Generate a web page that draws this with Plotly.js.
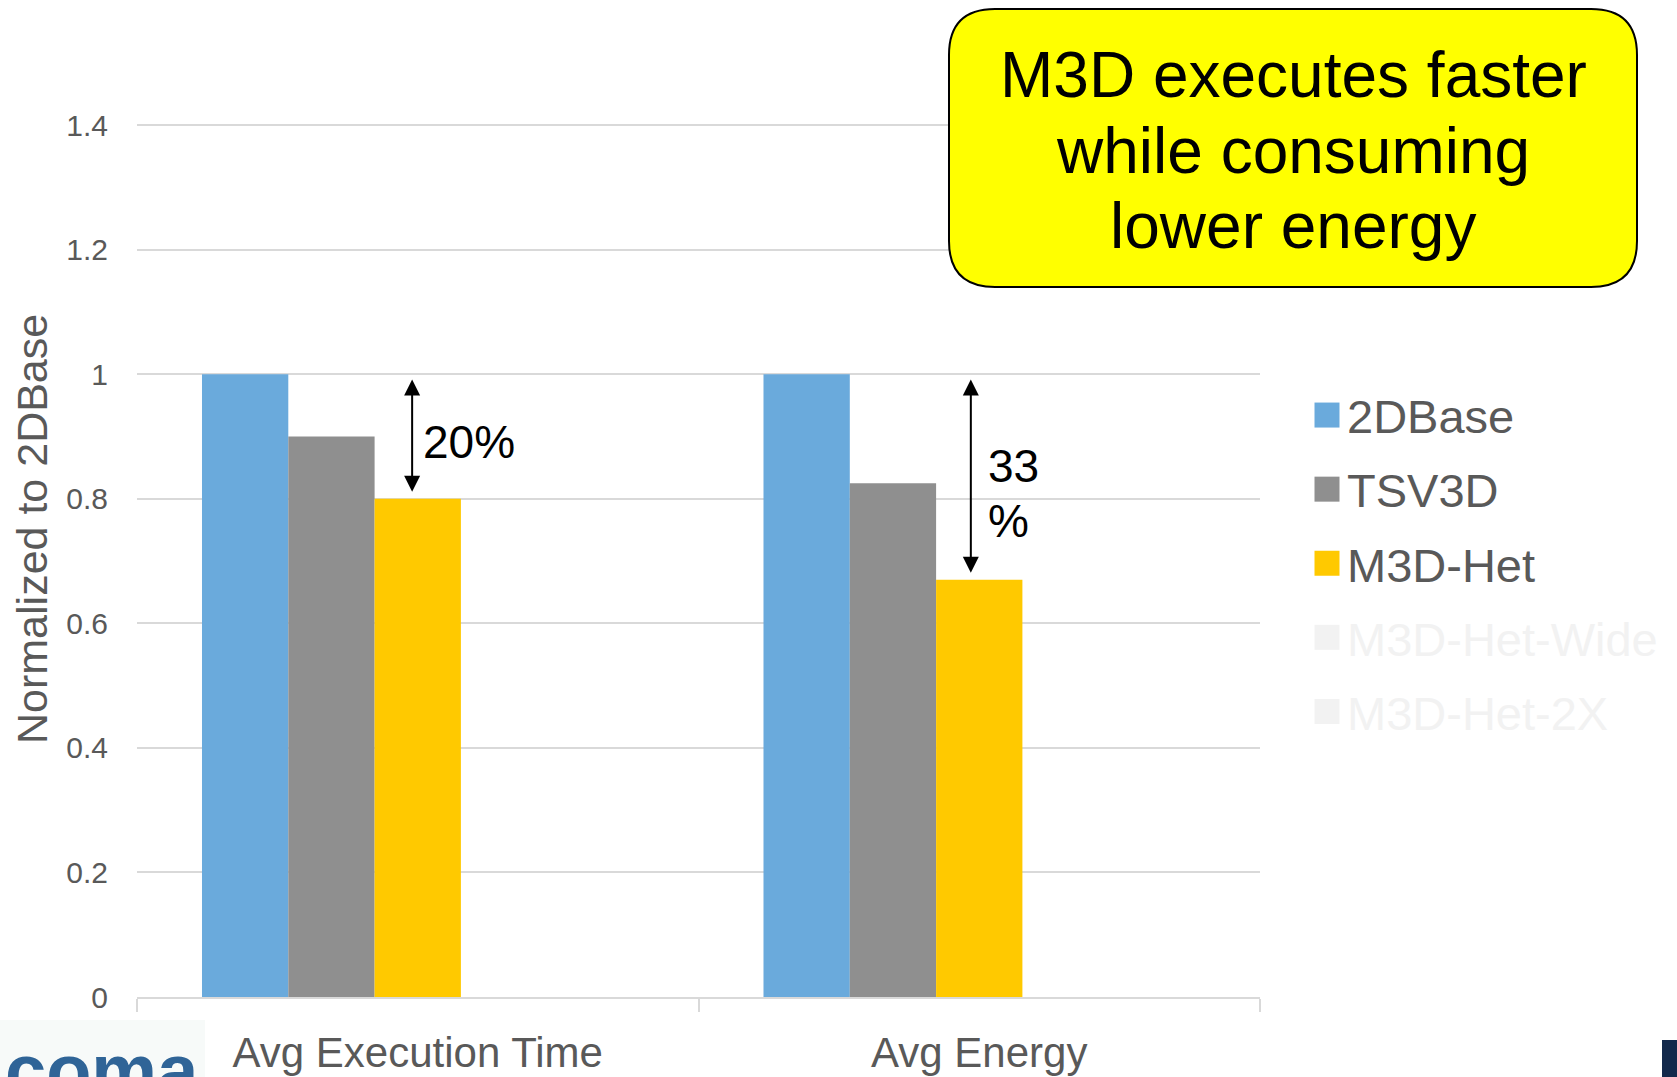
<!DOCTYPE html>
<html>
<head>
<meta charset="utf-8">
<script src="https://cdn.plot.ly/plotly-3.0.1.min.js"></script>
<style>
  html, body { margin: 0; padding: 0; background: #ffffff; }
  #chart { width: 1677px; height: 1077px; }
</style>
</head>
<body>
<div id="chart"></div>
<script>
// Normalized execution time and energy of the stacking options
const categories = ['Avg Execution Time', 'Avg Energy'];
const seriesNames = ['2DBase', 'TSV3D', 'M3D-Het', 'M3D-Het-Wide', 'M3D-Het-2X'];
const base2D = [1.0, 1.0];
const tsv3D = [0.90, 0.825];
const m3dHet = [0.80, 0.67];
const m3dHetWide = [null, null];
const m3dHet2X = [null, null];
const yTickVals = [0, 0.2, 0.4, 0.6, 0.8, 1.0, 1.2, 1.4];

const seriesValues = [base2D, tsv3D, m3dHet, m3dHetWide, m3dHet2X];
const seriesColors = ['#6aaadc', '#8f8f8f', '#ffc900', '#f2f2f2', '#f2f2f2'];
const fadedSeries = [false, false, false, true, true];

const FONT = 'Liberation Sans, Arial, Helvetica, sans-serif';
const W = 1677, H = 1077;
const M = { l: 137, r: 417, t: 119, b: 80 };
const plotW = W - M.l - M.r, plotH = H - M.t - M.b;
// leave a little headroom above 1.4 so its gridline is drawn
const Y_MAX = plotH * 1.4 / 872;
const px = x => (x - M.l) / plotW;          // page pixel -> paper x
const py = y => (H - M.b - y) / plotH;      // page pixel -> paper y

const traces = seriesNames.map((name, i) => ({
  type: 'bar',
  name: fadedSeries[i] ? '<span style="color:#f2f2f2">' + name + '</span>' : name,
  x: categories,
  y: seriesValues[i],
  marker: { color: seriesColors[i], line: { width: 0 } },
  legendgroup: 'g' + i,
  hoverinfo: 'skip'
}));

// rounded callout box
function roundedRect(x0, y0, x1, y1, r) {
  const X = v => px(v).toFixed(5), Y = v => py(v).toFixed(5);
  return 'M' + X(x0 + r) + ',' + Y(y0) +
    ' L' + X(x1 - r) + ',' + Y(y0) +
    ' Q' + X(x1) + ',' + Y(y0) + ' ' + X(x1) + ',' + Y(y0 + r) +
    ' L' + X(x1) + ',' + Y(y1 - r) +
    ' Q' + X(x1) + ',' + Y(y1) + ' ' + X(x1 - r) + ',' + Y(y1) +
    ' L' + X(x0 + r) + ',' + Y(y1) +
    ' Q' + X(x0) + ',' + Y(y1) + ' ' + X(x0) + ',' + Y(y1 - r) +
    ' L' + X(x0) + ',' + Y(y0 + r) +
    ' Q' + X(x0) + ',' + Y(y0) + ' ' + X(x0 + r) + ',' + Y(y0) + ' Z';
}

const shapes = [
  { type: 'path', xref: 'paper', yref: 'paper', path: roundedRect(949, 9, 1637, 287, 46),
    fillcolor: '#ffff00', line: { color: '#000000', width: 2 }, layer: 'above' },
  { type: 'rect', xref: 'paper', yref: 'paper', x0: px(0), x1: px(205), y0: py(1077), y1: py(1020),
    fillcolor: '#f7faf9', line: { width: 0 }, layer: 'above' },
  { type: 'rect', xref: 'paper', yref: 'paper', x0: px(1662), x1: px(1677), y0: py(1077), y1: py(1040),
    fillcolor: '#13294b', line: { width: 0 }, layer: 'above' }
];

// double-headed arrows showing the reduction against 2DBase
const gapX = [-0.01, 0.985];
const annotations = [];
categories.forEach((c, i) => {
  annotations.push({
    x: gapX[i], y: m3dHet[i] + 0.011, xref: 'x', yref: 'y',
    ax: gapX[i], ay: base2D[i] - 0.006, axref: 'x', ayref: 'y',
    text: '', showarrow: true, arrowside: 'end+start',
    arrowhead: 2, startarrowhead: 2, arrowsize: 1.6, startarrowsize: 1.6,
    arrowwidth: 2, arrowcolor: '#000000', standoff: 0, startstandoff: 0
  });
});
const pct = categories.map((c, i) => Math.round((base2D[i] - m3dHet[i]) * 100));
annotations.push(
  { x: 0.006, y: 0.891, xref: 'x', yref: 'y', xanchor: 'left', yanchor: 'middle',
    text: pct[0] + '%', showarrow: false, font: { family: FONT, size: 46, color: '#000000' } },
  { x: 1.012, y: 0.852, xref: 'x', yref: 'y', xanchor: 'left', yanchor: 'middle',
    text: String(pct[1]), showarrow: false, font: { family: FONT, size: 46, color: '#000000' } },
  { x: 1.012, y: 0.764, xref: 'x', yref: 'y', xanchor: 'left', yanchor: 'middle',
    text: '%', showarrow: false, font: { family: FONT, size: 46, color: '#000000' } }
);
// callout text, one line each
const calloutLines = ['M3D executes faster', 'while consuming', 'lower energy'];
const calloutBaselines = [97, 173, 248];
calloutLines.forEach((t, i) => {
  annotations.push({
    x: px(1293), y: py(calloutBaselines[i] - 22), xref: 'paper', yref: 'paper',
    xanchor: 'center', yanchor: 'middle', text: t, showarrow: false,
    font: { family: FONT, size: 64, color: '#000000' }
  });
});
// value axis title
annotations.push({
  x: px(32), y: py(529), xref: 'paper', yref: 'paper', xanchor: 'center', yanchor: 'middle',
  text: 'Normalized to 2DBase', textangle: -90, showarrow: false,
  font: { family: FONT, size: 43, color: '#595959' }
});
// logo mark at the foot of the page
annotations.push({
  x: px(3), y: py(1070), xref: 'paper', yref: 'paper', xanchor: 'left', yanchor: 'middle',
  text: '<b>coma</b>', showarrow: false,
  font: { family: FONT, size: 74, color: '#2f6497' }
});

const layout = {
  width: W, height: H,
  margin: { l: M.l, r: M.r, t: M.t, b: M.b, autoexpand: false },
  paper_bgcolor: '#ffffff', plot_bgcolor: '#ffffff',
  barmode: 'group', bargap: 0.2315, bargroupgap: 0,
  font: { family: FONT, color: '#595959' },
  xaxis: {
    type: 'category', showgrid: false, zeroline: false,
    showline: true, linecolor: '#d9d9d9', linewidth: 2,
    ticks: 'outside', tickson: 'boundaries', ticklen: 13, tickwidth: 2, tickcolor: '#d9d9d9',
    tickfont: { family: FONT, size: 42, color: '#595959' },
    ticklabelstandoff: 18
  },
  yaxis: {
    range: [0, Y_MAX], tickvals: yTickVals, tickmode: 'array',
    showgrid: true, gridcolor: '#d9d9d9', gridwidth: 2,
    zeroline: false, showline: false, ticks: '',
    tickfont: { family: FONT, size: 30, color: '#595959' },
    ticklabelstandoff: 28
  },
  legend: {
    x: px(1307), y: py(378), xanchor: 'left', yanchor: 'top',
    traceorder: 'grouped', tracegroupgap: 10, itemwidth: 30,
    bgcolor: 'rgba(0,0,0,0)', borderwidth: 0,
    font: { family: FONT, size: 47, color: '#595959' }
  },
  shapes: shapes,
  annotations: annotations,
  hovermode: false
};

Plotly.newPlot('chart', traces, layout, { displayModeBar: false, staticPlot: true }).then(gd => {
  // larger legend swatches
  gd.querySelectorAll('.legend .legendpoints path').forEach(p => p.setAttribute('d', 'M12.5,12.5H-12.5V-12.5H12.5Z'));
});
</script>
</body>
</html>
